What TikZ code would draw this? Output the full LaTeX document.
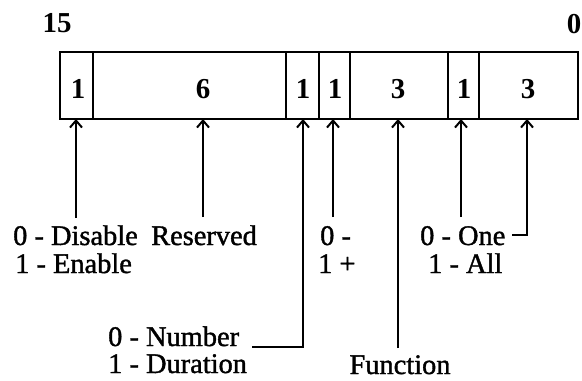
\documentclass[tikz,border=0pt]{standalone}
\usepackage{fontspec}
\setmainfont{Liberation Serif}
\newfontfamily\lblfont{Liberation Serif}[FakeBold=1.3]
\usetikzlibrary{arrows.meta}
\begin{document}
\begin{tikzpicture}[x=1bp,y=-1bp,
  lbl/.style={font=\lblfont\fontsize{28.5}{28.5}\selectfont, inner sep=0pt, anchor=base west},
  dig/.style={font=\fontsize{29}{29}\selectfont\bfseries, inner sep=0pt, anchor=base},
  cell/.style={draw, line width=2.2bp, minimum height=67bp, inner sep=0pt, anchor=north west},
  arr/.style={line width=2bp, -{Straight Barb[length=7bp,width=12bp,line width=2bp]}},
  ln/.style={line width=2bp}]
\useasboundingbox (0,0) rectangle (582,380);
% cells
\node[cell, minimum width=33bp] (b15) at (59,51) {};
\node[cell, minimum width=193bp] (bres) at (92,51) {};
\node[cell, minimum width=33bp] (bnum) at (285,51) {};
\node[cell, minimum width=31bp] (bsgn) at (318,51) {};
\node[cell, minimum width=98bp] (bfun) at (349,51) {};
\node[cell, minimum width=31bp] (bone) at (447,51) {};
\node[cell, minimum width=99bp] (blow) at (478,51) {};
% bit numbers
\node[dig] (n15) at (57,32) {15};
\node[dig] (n0) at (574,33) {0};
% cell digits
\node[dig] (d1) at (78,98) {1};
\node[dig] (d2) at (203,98) {6};
\node[dig] (d3) at (303,98) {1};
\node[dig] (d4) at (335,98) {1};
\node[dig] (d5) at (398,98) {3};
\node[dig] (d6) at (464,98) {1};
\node[dig] (d7) at (528,98) {3};
% labels
\node[lbl] (lDis) at (13,245) {0 - Disable};
\node[lbl] (lEn) at (15,273) {1 - Enable};
\node[lbl] (lRes) at (151,245) {Reserved};
\node[lbl] (lS0) at (320,245) {0 -};
\node[lbl] (lS1) at (318,273) {1 +};
\node[lbl] (lOne) at (420,245) {0 - One};
\node[lbl] (lAll) at (428,273) {1 - All};
\node[lbl] (lNum) at (108,346) {0 - Number};
\node[lbl] (lDur) at (108,373) {1 - Duration};
\node[lbl, anchor=base] (lFun) at (400,374) {Function};
% connector points
\coordinate (t1) at (76,119);
\coordinate (s1) at (76,218);
\coordinate (t2) at (203,119);
\coordinate (s2) at (203,217);
\coordinate (t3) at (303,119);
\coordinate (k3) at (303,347);
\coordinate (s3) at (252,347);
\coordinate (t4) at (333,119);
\coordinate (s4) at (333,217);
\coordinate (t5) at (398,119);
\coordinate (s5) at (398,348);
\coordinate (t6) at (461,119);
\coordinate (s6) at (461,217);
\coordinate (t7) at (527,119);
\coordinate (k7) at (527,235);
\coordinate (s7) at (512,235);
% connectors
\draw[arr] (s1) -- (t1);
\draw[arr] (s2) -- (t2);
\draw[arr] (s3) -- (k3) -- (t3);
\draw[arr] (s4) -- (t4);
\draw[arr] (s5) -- (t5);
\draw[arr] (s6) -- (t6);
\draw[arr] (s7) -- (k7) -- (t7);
\end{tikzpicture}
\end{document}
